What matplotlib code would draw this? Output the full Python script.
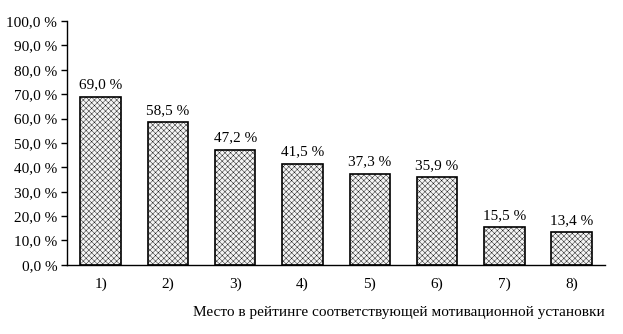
import matplotlib.pyplot as plt
import matplotlib as mpl

# places in ranking and share of respondents
categories = ['1)', '2)', '3)', '4)', '5)', '6)', '7)', '8)']
values = [69.0, 58.5, 47.2, 41.5, 37.3, 35.9, 15.5, 13.4]

plt.rcParams['font.family'] = ['Liberation Serif', 'DejaVu Serif']
plt.rcParams['font.size'] = 11
mpl.rcParams['hatch.color'] = '#c4c4c4'
mpl.rcParams['hatch.linewidth'] = 0.3

def pct(v):
    return f"{v:.1f}".replace('.', ',') + ' %'

fig = plt.figure(figsize=(6.23, 3.34), dpi=100)
ax = fig.add_axes([0.1075, 0.207, 0.864, 0.73])

x = range(len(categories))
bars = ax.bar(x, values, width=0.6, facecolor='#f4f4f4', edgecolor='black',
              linewidth=1.2, hatch='xxxxxx')

for b, v in zip(bars, values):
    ax.text(b.get_x() + b.get_width() / 2, v + 2.2, pct(v),
            ha='center', va='bottom')

ax.set_ylim(0, 100)
ax.set_xlim(-0.5, len(categories) - 0.5)
ax.set_yticks(range(0, 101, 10))
ax.set_yticklabels([pct(t) for t in range(0, 101, 10)])
ax.set_xticks(list(x))
ax.set_xticklabels(categories)
ax.tick_params(axis='x', length=0, pad=9)
ax.tick_params(axis='y', length=4, width=1, direction='out', pad=3)

for s in ['top', 'right']:
    ax.spines[s].set_visible(False)
ax.spines['left'].set_linewidth(1)
ax.spines['bottom'].set_linewidth(1)

fig.text(0.971, 0.045, 'Место в рейтинге соответствующей мотивационной установки',
         ha='right', va='bottom')

fig.savefig('out.png', dpi=100)
